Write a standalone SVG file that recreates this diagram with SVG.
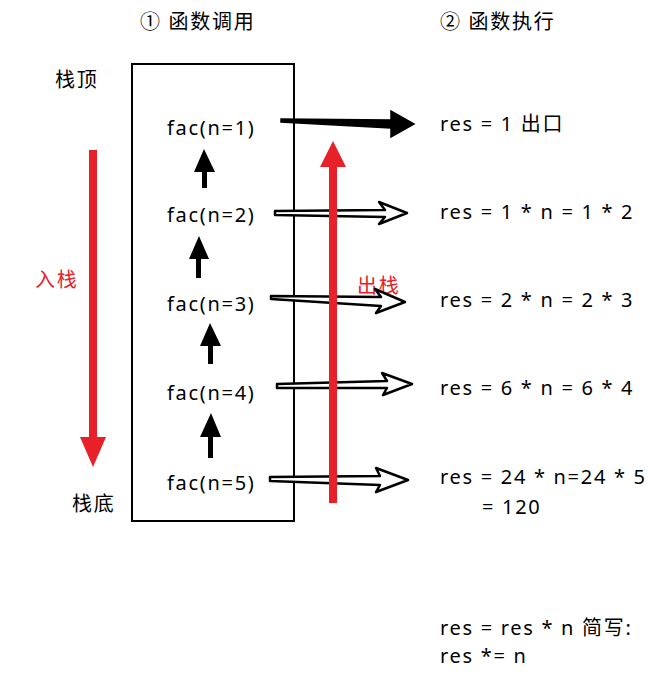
<svg xmlns="http://www.w3.org/2000/svg" width="661" height="686" viewBox="0 0 661 686">
<style>
text{font-family:"Noto Sans","Noto Sans CJK SC",sans-serif;font-size:20px;letter-spacing:1.7px;fill:#000}
.red{fill:#e8202a}
.h{fill:#fff;stroke:#000;stroke-width:2.5;stroke-linejoin:round}
</style>
<rect width="661" height="686" fill="#fff"/>
<g id="titles"><text x="140" y="29">① 函数调用</text><text x="440" y="29">② 函数执行</text></g>
<g id="labels"><text x="55" y="87">栈顶</text><text x="72" y="511">栈底</text><text x="35" y="287" class="red">入栈</text><text x="357" y="293" class="red">出栈</text></g>
<g id="stack"><rect x="132" y="64" width="162" height="457" fill="none" stroke="#000" stroke-width="2"/></g>
<g id="n1"><text x="167" y="135">fac(n=1)</text></g>
<g id="n2"><text x="167" y="222">fac(n=2)</text></g>
<g id="n3"><text x="167" y="311">fac(n=3)</text></g>
<g id="n4"><text x="167" y="400">fac(n=4)</text></g>
<g id="n5"><text x="167" y="490">fac(n=5)</text></g>
<g id="r1"><text x="440" y="131">res = 1  出口</text></g>
<g id="r2"><text x="440" y="219">res = 1 * n = 1 * 2</text></g>
<g id="r3"><text x="440" y="307">res = 2 * n = 2 * 3</text></g>
<g id="r4"><text x="440" y="395">res = 6 * n = 6 * 4</text></g>
<g id="r5"><text x="440" y="484">res = 24 * n=24 * 5</text><text x="482" y="514">= 120</text></g>
<g id="note"><text x="440" y="635">res = res * n 简写:</text><text x="440" y="663">res *= n</text></g>
<g id="connectors">
<polygon points="281,119 391,120 391,111 414,124 391,137 391,128 281,122" fill="#000" stroke="#000" stroke-width="1.5"/>
<polygon class="h" points="275,211 385,210 379,202 407,213 379,224 385,217 275,215"/>
<polygon class="h" points="271,296 381,297 375,289 405,302 376,313 381,306 271,299"/>
<polygon class="h" points="277,384 387,381 382,373 412,384 383,395 387,388 277,388"/>
<polygon class="h" points="270,477 380,476 376,468 408,480 376,492 380,485 270,481"/>
<polygon class="red" points="329,503 329,167 320,167 333,141 346,167 337,167 337,503"/>
<polygon class="red" points="89,150 97,150 97,437 106,437 93,467 80,437 89,437"/>
<g fill="#000">
<polygon points="202,188 207,188 207,172 215,172 204,149 194,172 202,172"/>
<polygon points="196,278 201,278 201,259 209,259 199,236 189,259 196,259"/>
<polygon points="208,364 213,364 213,346 221,346 210,323 200,346 208,346"/>
<polygon points="208,458 213,458 213,437 221,437 211,413 200,437 208,437"/>
</g>
</g>
</svg>
